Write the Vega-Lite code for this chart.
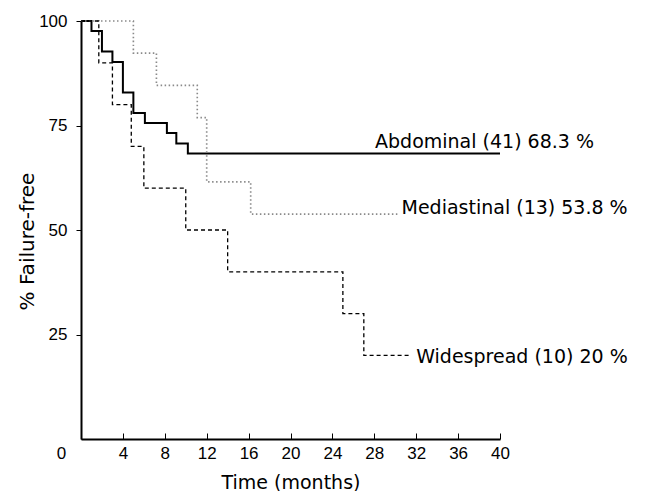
{
  "$schema": "https://vega.github.io/schema/vega-lite/v6.json",
  "width": 419,
  "height": 418,
  "autosize": "none",
  "padding": {"left": 81, "top": 21, "right": 148, "bottom": 52},
  "background": "white",
  "config": {"view": {"stroke": null}, "font": "Liberation Sans"},
  "datasets": {
    "curves": [
      {"group": "Abdominal", "month": 0, "pct": 100},
      {"group": "Abdominal", "month": 1, "pct": 97.6},
      {"group": "Abdominal", "month": 2, "pct": 92.7},
      {"group": "Abdominal", "month": 3, "pct": 90.2},
      {"group": "Abdominal", "month": 4, "pct": 82.9},
      {"group": "Abdominal", "month": 5, "pct": 78.0},
      {"group": "Abdominal", "month": 6.1, "pct": 75.6},
      {"group": "Abdominal", "month": 8.2, "pct": 73.2},
      {"group": "Abdominal", "month": 9.1, "pct": 70.7},
      {"group": "Abdominal", "month": 10.2, "pct": 68.3},
      {"group": "Abdominal", "month": 40, "pct": 68.3},
      {"group": "Mediastinal", "month": 0, "pct": 100},
      {"group": "Mediastinal", "month": 5, "pct": 92.3},
      {"group": "Mediastinal", "month": 7.2, "pct": 84.6},
      {"group": "Mediastinal", "month": 11.1, "pct": 76.9},
      {"group": "Mediastinal", "month": 12, "pct": 61.5},
      {"group": "Mediastinal", "month": 16.2, "pct": 53.8},
      {"group": "Mediastinal", "month": 30.2, "pct": 53.8},
      {"group": "Widespread", "month": 0, "pct": 100},
      {"group": "Widespread", "month": 1.7, "pct": 90},
      {"group": "Widespread", "month": 3, "pct": 80},
      {"group": "Widespread", "month": 4.8, "pct": 70},
      {"group": "Widespread", "month": 6, "pct": 60},
      {"group": "Widespread", "month": 10, "pct": 50},
      {"group": "Widespread", "month": 14, "pct": 40},
      {"group": "Widespread", "month": 25, "pct": 30},
      {"group": "Widespread", "month": 27, "pct": 20},
      {"group": "Widespread", "month": 31.4, "pct": 20}
    ],
    "labels": [
      {"label": "Abdominal (41) 68.3 %", "month": 28.07, "pct": 69.6},
      {"label": "Mediastinal (13) 53.8 %", "month": 30.6, "pct": 53.8},
      {"label": "Widespread (10) 20 %", "month": 32.0, "pct": 18.25}
    ]
  },
  "layer": [
    {
      "data": {"name": "curves"},
      "mark": {"type": "line", "interpolate": "step-after"},
      "encoding": {
        "x": {
          "field": "month", "type": "quantitative",
          "scale": {"domain": [0, 40], "nice": false, "zero": false},
          "axis": {
            "values": [0, 4, 8, 12, 16, 20, 24, 28, 32, 36, 40],
            "title": "Time (months)",
            "titleFont": "DejaVu Sans", "titleFontSize": 19, "titleFontWeight": "normal",
            "titleColor": "black", "titleBaseline": "alphabetic", "titleY": 49,
            "labelFont": "Liberation Sans", "labelFontSize": 17, "labelColor": "black",
            "labelBaseline": "alphabetic", "labelPadding": 25,
            "labelOffset": {"condition": {"test": "datum.value === 0", "value": -20}, "value": 0},
            "labelFlush": false, "labelOverlap": false,
            "tickSize": -6, "tickColor": "black", "tickWidth": 1,
            "domainColor": "black", "domainWidth": 2, "grid": false
          }
        },
        "y": {
          "field": "pct", "type": "quantitative",
          "scale": {"domain": [0, 100], "nice": false},
          "axis": {
            "values": [25, 50, 75, 100],
            "title": "% Failure-free",
            "titleFont": "DejaVu Sans", "titleFontSize": 20, "titleFontWeight": "normal",
            "titleColor": "black", "titleX": -48, "titleY": 220, "titleAlign": "center",
            "titleBaseline": "alphabetic", "titleAngle": -90,
            "labelFont": "Liberation Sans", "labelFontSize": 17, "labelColor": "black",
            "labelPadding": 9, "labelFlush": false,
            "tickSize": 5, "tickColor": "black", "tickWidth": 1,
            "domainColor": "black", "domainWidth": 2, "grid": false
          }
        },
        "detail": {"field": "group"},
        "color": {"field": "group", "type": "nominal", "legend": null,
          "scale": {"domain": ["Abdominal", "Mediastinal", "Widespread"], "range": ["black", "#8a8a8a", "black"]}},
        "strokeDash": {"field": "group", "type": "nominal", "legend": null,
          "scale": {"domain": ["Abdominal", "Mediastinal", "Widespread"], "range": [[1, 0], [1.5, 2.5], [4, 3]]}},
        "strokeWidth": {"field": "group", "type": "nominal", "legend": null,
          "scale": {"domain": ["Abdominal", "Mediastinal", "Widespread"], "range": [2, 1.3, 1.5]}}
      }
    },
    {
      "data": {"name": "labels"},
      "mark": {"type": "text", "align": "left", "baseline": "alphabetic", "font": "DejaVu Sans", "fontSize": 19, "color": "black"},
      "encoding": {
        "x": {"field": "month", "type": "quantitative"},
        "y": {"field": "pct", "type": "quantitative"},
        "text": {"field": "label"}
      }
    }
  ]
}
